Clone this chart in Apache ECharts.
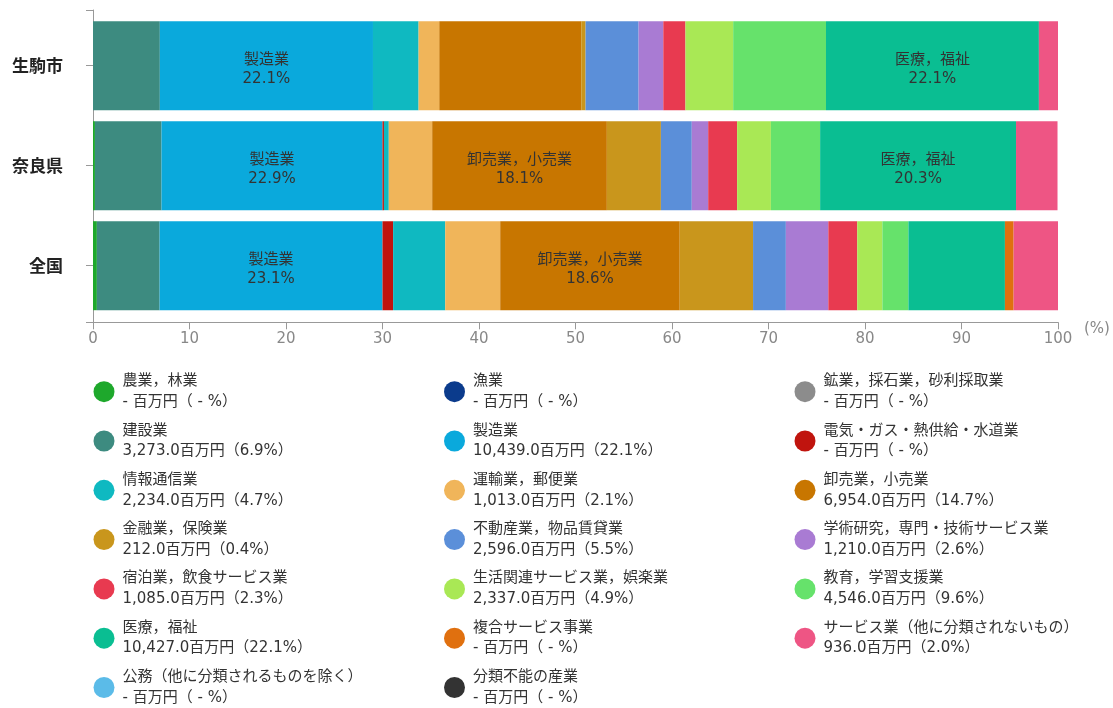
<!DOCTYPE html>
<html>
<head>
<meta charset="utf-8">
<script src="https://cdn.jsdelivr.net/npm/echarts@6/dist/echarts.min.js"></script>
<style>
html,body{margin:0;padding:0;background:#fff;}
#chart{width:1113px;height:708px;}
</style>
</head>
<body>
<div id="chart"></div>
<script>
// Categories (top to bottom)
const regions = ['生駒市', '奈良県', '全国'];

// Industries (legend / stack order)
const industries = [
  '農業，林業', '漁業', '鉱業，採石業，砂利採取業',
  '建設業', '製造業', '電気・ガス・熱供給・水道業',
  '情報通信業', '運輸業，郵便業', '卸売業，小売業',
  '金融業，保険業', '不動産業，物品賃貸業', '学術研究，専門・技術サービス業',
  '宿泊業，飲食サービス業', '生活関連サービス業，娯楽業', '教育，学習支援業',
  '医療，福祉', '複合サービス事業', 'サービス業（他に分類されないもの）',
  '公務（他に分類されるものを除く）', '分類不能の産業'
];

// 生駒市 values (百万円); null = '-'
const ikomaValues = [null, null, null, 3273.0, 10439.0, null, 2234.0, 1013.0, 6954.0, 212.0, 2596.0, 1210.0, 1085.0, 2337.0, 4546.0, 10427.0, null, 936.0, null, null];

// 奈良県 shares (%)
const naraPct = [0.2, 0, 0, 6.9, 22.9, 0.15, 0.5, 4.5, 18.1, 5.6, 3.2, 1.7, 3.0, 3.5, 5.1, 20.3, 0, 4.3, 0, 0];

// 全国 shares (%)
const zenkokuPct = [0.4, 0, 0, 6.5, 23.1, 1.1, 5.4, 5.7, 18.6, 7.6, 3.4, 4.4, 3.0, 2.6, 2.7, 10.0, 0.9, 4.6, 0, 0];

const colors = [
  '#1ea82c', '#0b3b8c', '#8c8c8c',
  '#3d8b80', '#0aa9dc', '#c0140e',
  '#0fb9c1', '#f0b55a', '#c87600',
  '#c9961c', '#5b8fd9', '#a97bd3',
  '#e83a50', '#a9e855', '#66e26b',
  '#0abe92', '#e0700f', '#ee5584',
  '#5bbbe8', '#333333'
];

const xTicks = { min: 0, max: 100, interval: 10 };

const FONT = '"DejaVu Sans", "Noto Sans CJK JP", sans-serif';

const ikomaTotal = ikomaValues.reduce((s, v) => s + (v || 0), 0);
const ikomaPct = ikomaValues.map(v => v == null ? 0 : v / ikomaTotal * 100);

function legendText(name) {
  const i = industries.indexOf(name);
  const v = ikomaValues[i];
  let line2;
  if (v == null) {
    line2 = '- 百万円（ - %）';
  } else {
    line2 = v.toLocaleString('en-US', { minimumFractionDigits: 1, maximumFractionDigits: 1 }) +
      '百万円（' + ikomaPct[i].toFixed(1) + '%）';
  }
  return '{n|' + name + '}\n{v|' + line2 + '}';
}

const series = industries.map((name, i) => ({
  name: name,
  type: 'bar',
  stack: 'total',
  barWidth: 89,
  clip: false,
  xAxisIndex: 0,
  yAxisIndex: 0,
  itemStyle: { color: colors[i] },
  label: {
    show: true,
    position: 'inside',
    offset: [0, 4],
    color: '#333',
    fontSize: 15,
    lineHeight: 19,
    fontFamily: FONT,
    formatter: p => p.value >= 15 ? name + '\n' + p.value.toFixed(1) + '%' : ''
  },
  emphasis: { disabled: true },
  data: [ikomaPct[i], naraPct[i], zenkokuPct[i]]
}));

const col1 = [0, 3, 6, 9, 12, 15, 18].map(i => industries[i]);
const col2 = [1, 4, 7, 10, 13, 16, 19].map(i => industries[i]);
const col3 = [2, 5, 8, 11, 14, 17].map(i => industries[i]);

const richText = {
  n: { fontSize: 15, lineHeight: 20.7, color: '#333', fontFamily: FONT },
  v: { fontSize: 15, lineHeight: 20.7, color: '#333', fontFamily: FONT }
};

function makeLegend(data, left) {
  return {
    data: data,
    orient: 'vertical',
    left: left,
    top: 371,
    height: 420,
    padding: 0,
    itemGap: 7.9,
    itemWidth: 21,
    itemHeight: 21,
    icon: 'circle',
    selectedMode: false,
    formatter: legendText,
    textStyle: { fontSize: 15, lineHeight: 20.7, color: '#333', fontFamily: FONT, padding: [0, 0, 0, 3], rich: richText }
  };
}

const chart = echarts.init(document.getElementById('chart'));
chart.setOption({
  animation: false,
  backgroundColor: '#fff',
  textStyle: { fontFamily: FONT },
  grid: [
    { left: 93, right: 55, top: 15.7, height: 300 },
    { left: 93, right: 55, top: 10, height: 312 }
  ],
  legend: [makeLegend(col1, 93.5), makeLegend(col2, 444), makeLegend(col3, 794.5)],
  xAxis: [
    {
      type: 'value',
      gridIndex: 0,
      min: xTicks.min,
      max: xTicks.max,
      interval: xTicks.interval,
      position: 'bottom',
      offset: 6.6,
      name: '(%)',
      nameLocation: 'end',
      nameGap: 26,
      nameTextStyle: { color: '#888', fontSize: 15, verticalAlign: 'top', padding: [-1, 0, 0, 0] },
      axisLine: { show: true, lineStyle: { color: '#999' } },
      axisTick: { show: true, length: 7, lineStyle: { color: '#999' } },
      axisLabel: { color: '#888', fontSize: 15, margin: 9 },
      splitLine: { show: false }
    },
    { type: 'value', gridIndex: 1, min: 0, max: 1, show: false }
  ],
  yAxis: [
    {
      type: 'category',
      gridIndex: 0,
      data: regions,
      inverse: true,
      axisLine: { show: false },
      axisTick: { show: true, alignWithLabel: true, length: 7, lineStyle: { color: '#999' } },
      axisLabel: { color: '#222', fontSize: 17, fontWeight: 'bold', margin: 30, fontFamily: '"Noto Sans CJK JP", sans-serif' }
    },
    {
      type: 'value',
      gridIndex: 1,
      min: 0,
      max: 1,
      interval: 1,
      axisLine: { show: true, lineStyle: { color: '#999' } },
      axisTick: { show: true, length: 7, lineStyle: { color: '#999' } },
      axisLabel: { show: false },
      splitLine: { show: false }
    }
  ],
  series: series
});
</script>
</body>
</html>
